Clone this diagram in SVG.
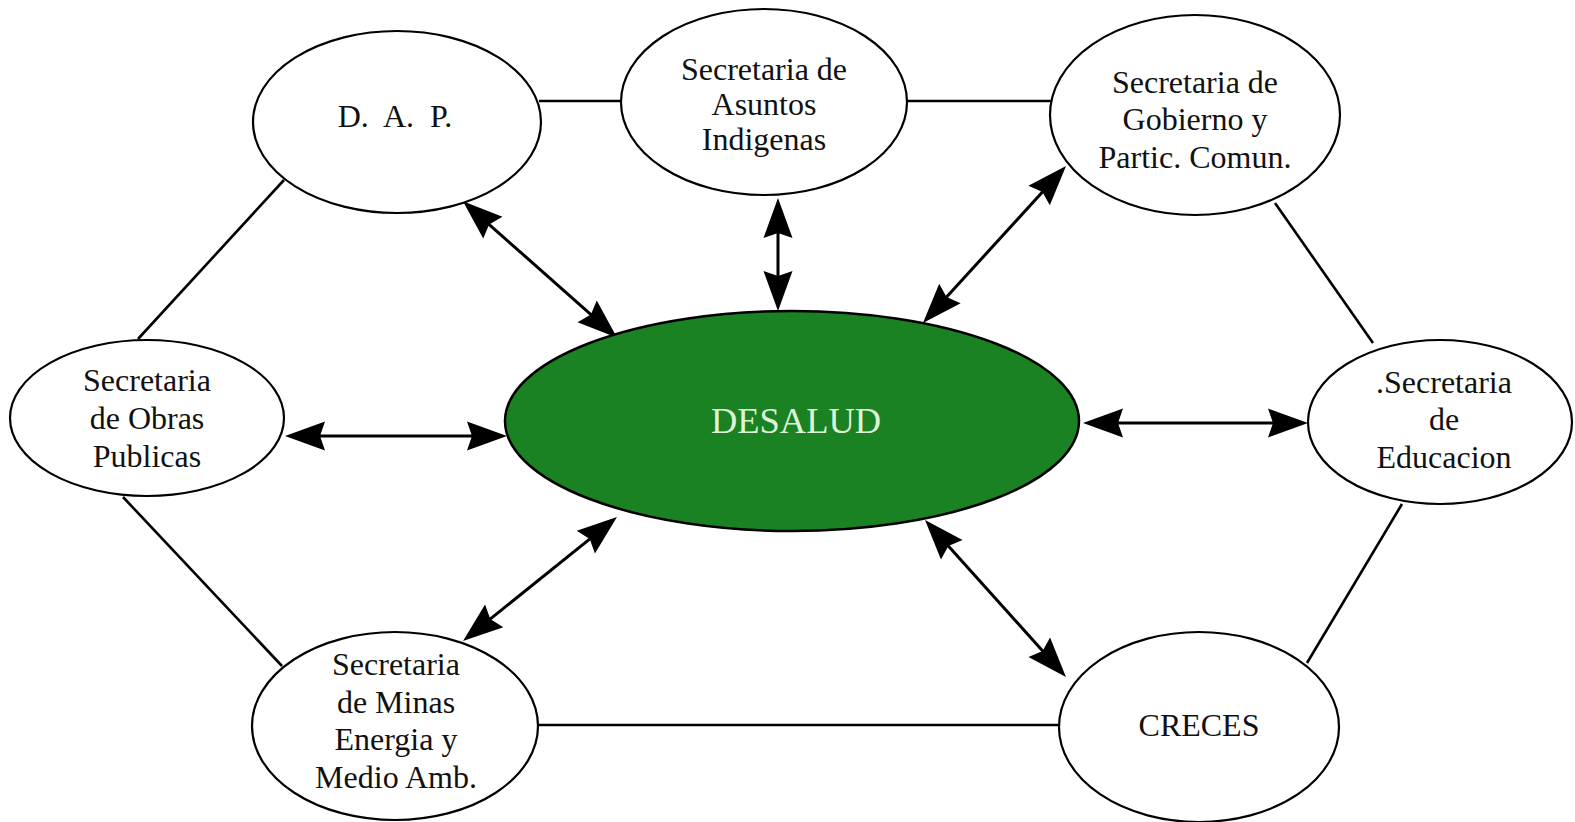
<svg xmlns="http://www.w3.org/2000/svg" width="1575" height="822" viewBox="0 0 1575 822">
<style>
.node ellipse{fill:#fff;stroke:#000;stroke-width:2.2}
.lbl{font-family:"Liberation Serif","Times New Roman",serif;font-size:32px;fill:#111;text-anchor:middle}
.ln{stroke:#000;stroke-width:2.6;fill:none}
.ar{stroke:#000;stroke-width:3;fill:none;marker-start:url(#ah);marker-end:url(#ah)}
</style>
<defs>
<marker id="ah" markerUnits="userSpaceOnUse" viewBox="-44 -20 46 40" markerWidth="46" markerHeight="40" refX="-10" refY="0" orient="auto-start-reverse">
<path d="M0,0 L-40,-14.5 L-35,0 L-40,14.5 Z" fill="#000"/>
</marker>
</defs>
<rect width="1575" height="822" fill="#fff"/>
<g id="connectors">
<line class="ln" x1="539" y1="101" x2="620" y2="101"/>
<line class="ln" x1="907" y1="101" x2="1051" y2="101"/>
<line class="ln" x1="284" y1="180" x2="138" y2="339"/>
<line class="ln" x1="1275" y1="203" x2="1373" y2="343"/>
<line class="ln" x1="123" y1="497" x2="282" y2="666"/>
<line class="ln" x1="538" y1="725" x2="1068" y2="725"/>
<line class="ln" x1="1402" y1="504" x2="1307" y2="663"/>
<line class="ar" x1="470.4" y1="207.8" x2="609.6" y2="331.2"/>
<line class="ar" x1="778" y1="208" x2="778" y2="301"/>
<line class="ar" x1="1059.3" y1="173.4" x2="929.7" y2="315.6"/>
<line class="ar" x1="295" y1="436" x2="497" y2="436"/>
<line class="ar" x1="1093" y1="423" x2="1298" y2="423"/>
<line class="ar" x1="470.8" y1="634.7" x2="609.2" y2="523.3"/>
<line class="ar" x1="931.7" y1="527.4" x2="1059.3" y2="669.6"/>
</g>
<g id="desalud">
<ellipse cx="792" cy="421" rx="287" ry="110" fill="#1b8224" stroke="#000" stroke-width="2.5"/>
<text x="796" y="433" font-family="Liberation Serif,serif" font-size="35" fill="#def4d6" text-anchor="middle" textLength="170" lengthAdjust="spacingAndGlyphs">DESALUD</text>
</g>
<g id="dap" class="node">
<ellipse cx="397" cy="122" rx="144" ry="91"/>
<text class="lbl" x="395" y="127" xml:space="preserve">D.  A.  P.</text>
</g>
<g id="asuntos" class="node">
<ellipse cx="764" cy="102" rx="143" ry="93"/>
<text class="lbl" x="764" y="80">Secretaria de</text>
<text class="lbl" x="764" y="115">Asuntos</text>
<text class="lbl" x="764" y="150">Indigenas</text>
</g>
<g id="gobierno" class="node">
<ellipse cx="1195" cy="115" rx="145" ry="100"/>
<text class="lbl" x="1195" y="93">Secretaria de</text>
<text class="lbl" x="1195" y="130">Gobierno y</text>
<text class="lbl" x="1195" y="168">Partic. Comun.</text>
</g>
<g id="obras" class="node">
<ellipse cx="147" cy="418" rx="137" ry="78"/>
<text class="lbl" x="147" y="391">Secretaria</text>
<text class="lbl" x="147" y="429">de Obras</text>
<text class="lbl" x="147" y="467">Publicas</text>
</g>
<g id="educacion" class="node">
<ellipse cx="1440" cy="422" rx="132" ry="82"/>
<text class="lbl" x="1444" y="393">.Secretaria</text>
<text class="lbl" x="1444" y="430">de</text>
<text class="lbl" x="1444" y="468">Educacion</text>
</g>
<g id="minas" class="node">
<ellipse cx="395" cy="726" rx="143" ry="94"/>
<text class="lbl" x="396" y="675">Secretaria</text>
<text class="lbl" x="396" y="713">de Minas</text>
<text class="lbl" x="396" y="750">Energia y</text>
<text class="lbl" x="396" y="788">Medio Amb.</text>
</g>
<g id="creces" class="node">
<ellipse cx="1199" cy="727" rx="140" ry="95"/>
<text class="lbl" x="1199" y="736">CRECES</text>
</g>
</svg>
